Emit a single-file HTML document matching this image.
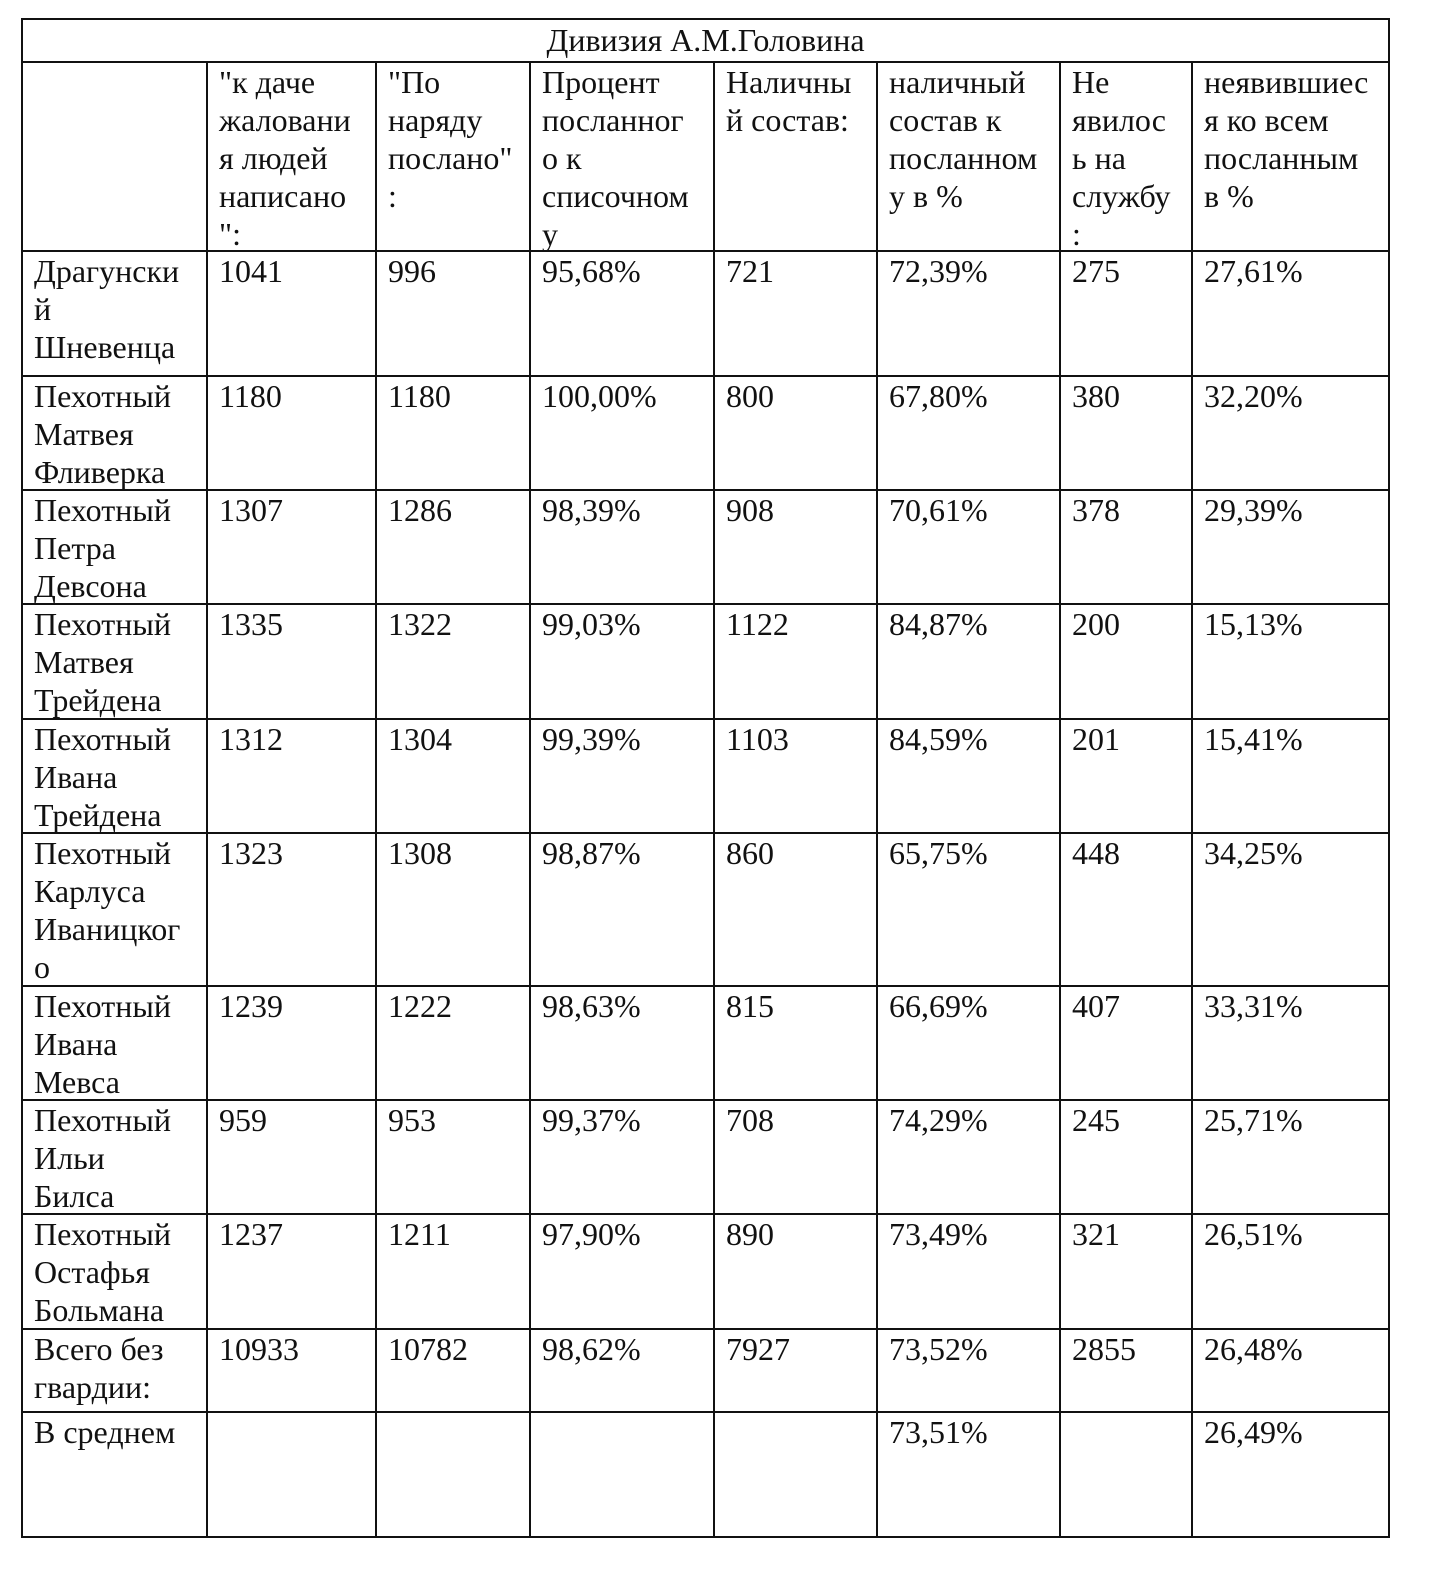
<!DOCTYPE html>
<html><head><meta charset="utf-8"><style>
body{margin:0;background:#fff;width:1439px;height:1595px;position:relative;overflow:hidden;font-family:"Liberation Serif","DejaVu Serif",serif;color:#111}
.l{position:absolute;background:#111}
.c{position:absolute;font-size:32px;line-height:38px;white-space:pre;}
</style></head><body>
<div id="t"></div>
<script>
const X=[22,207,376,530,714,877,1060,1192,1389];
const Y=[19,62,251,376,490,604,719,833,986,1100,1214,1329,1412,1537];
let h='';
for(const x of X){if(x==22||x==1389)h+=`<div class="l" style="left:${x-1}px;top:${Y[0]-1}px;width:2px;height:${Y[13]-Y[0]+2}px"></div>`;else h+=`<div class="l" style="left:${x-1}px;top:${Y[1]}px;width:2px;height:${Y[13]-Y[1]}px"></div>`;}
for(const y of Y){h+=`<div class="l" style="left:21px;top:${y-1}px;width:1369px;height:2px"></div>`;}
h+=`<div class="c" style="left:22px;width:1367px;text-align:center;top:21px">Дивизия А.М.Головина</div>`;
const rows=[
["","\"к даче\nжаловани\nя людей\nнаписано\n\":","\"По\nнаряду\nпослано\"\n:","Процент\nпосланног\nо к\nсписочном\nу","Наличны\nй состав:","наличный\nсостав к\nпосланном\nу в %","Не\nявилос\nь на\nслужбу\n:","неявившиес\nя ко всем\nпосланным\nв %"],
["Драгунски\nй\nШневенца","1041","996","95,68%","721","72,39%","275","27,61%"],
["Пехотный\nМатвея\nФливерка","1180","1180","100,00%","800","67,80%","380","32,20%"],
["Пехотный\nПетра\nДевсона","1307","1286","98,39%","908","70,61%","378","29,39%"],
["Пехотный\nМатвея\nТрейдена","1335","1322","99,03%","1122","84,87%","200","15,13%"],
["Пехотный\nИвана\nТрейдена","1312","1304","99,39%","1103","84,59%","201","15,41%"],
["Пехотный\nКарлуса\nИваницког\nо","1323","1308","98,87%","860","65,75%","448","34,25%"],
["Пехотный\nИвана\nМевса","1239","1222","98,63%","815","66,69%","407","33,31%"],
["Пехотный\nИльи\nБилса","959","953","99,37%","708","74,29%","245","25,71%"],
["Пехотный\nОстафья\nБольмана","1237","1211","97,90%","890","73,49%","321","26,51%"],
["Всего без\nгвардии:","10933","10782","98,62%","7927","73,52%","2855","26,48%"],
["В среднем","","","","","73,51%","","26,49%"]];
rows.forEach((r,i)=>{r.forEach((t,j)=>{if(t)h+=`<div class="c" style="left:${X[j]+12}px;top:${Y[i+1]+1}px">${t}</div>`;});});
document.getElementById('t').innerHTML=h;
</script>
</body></html>
